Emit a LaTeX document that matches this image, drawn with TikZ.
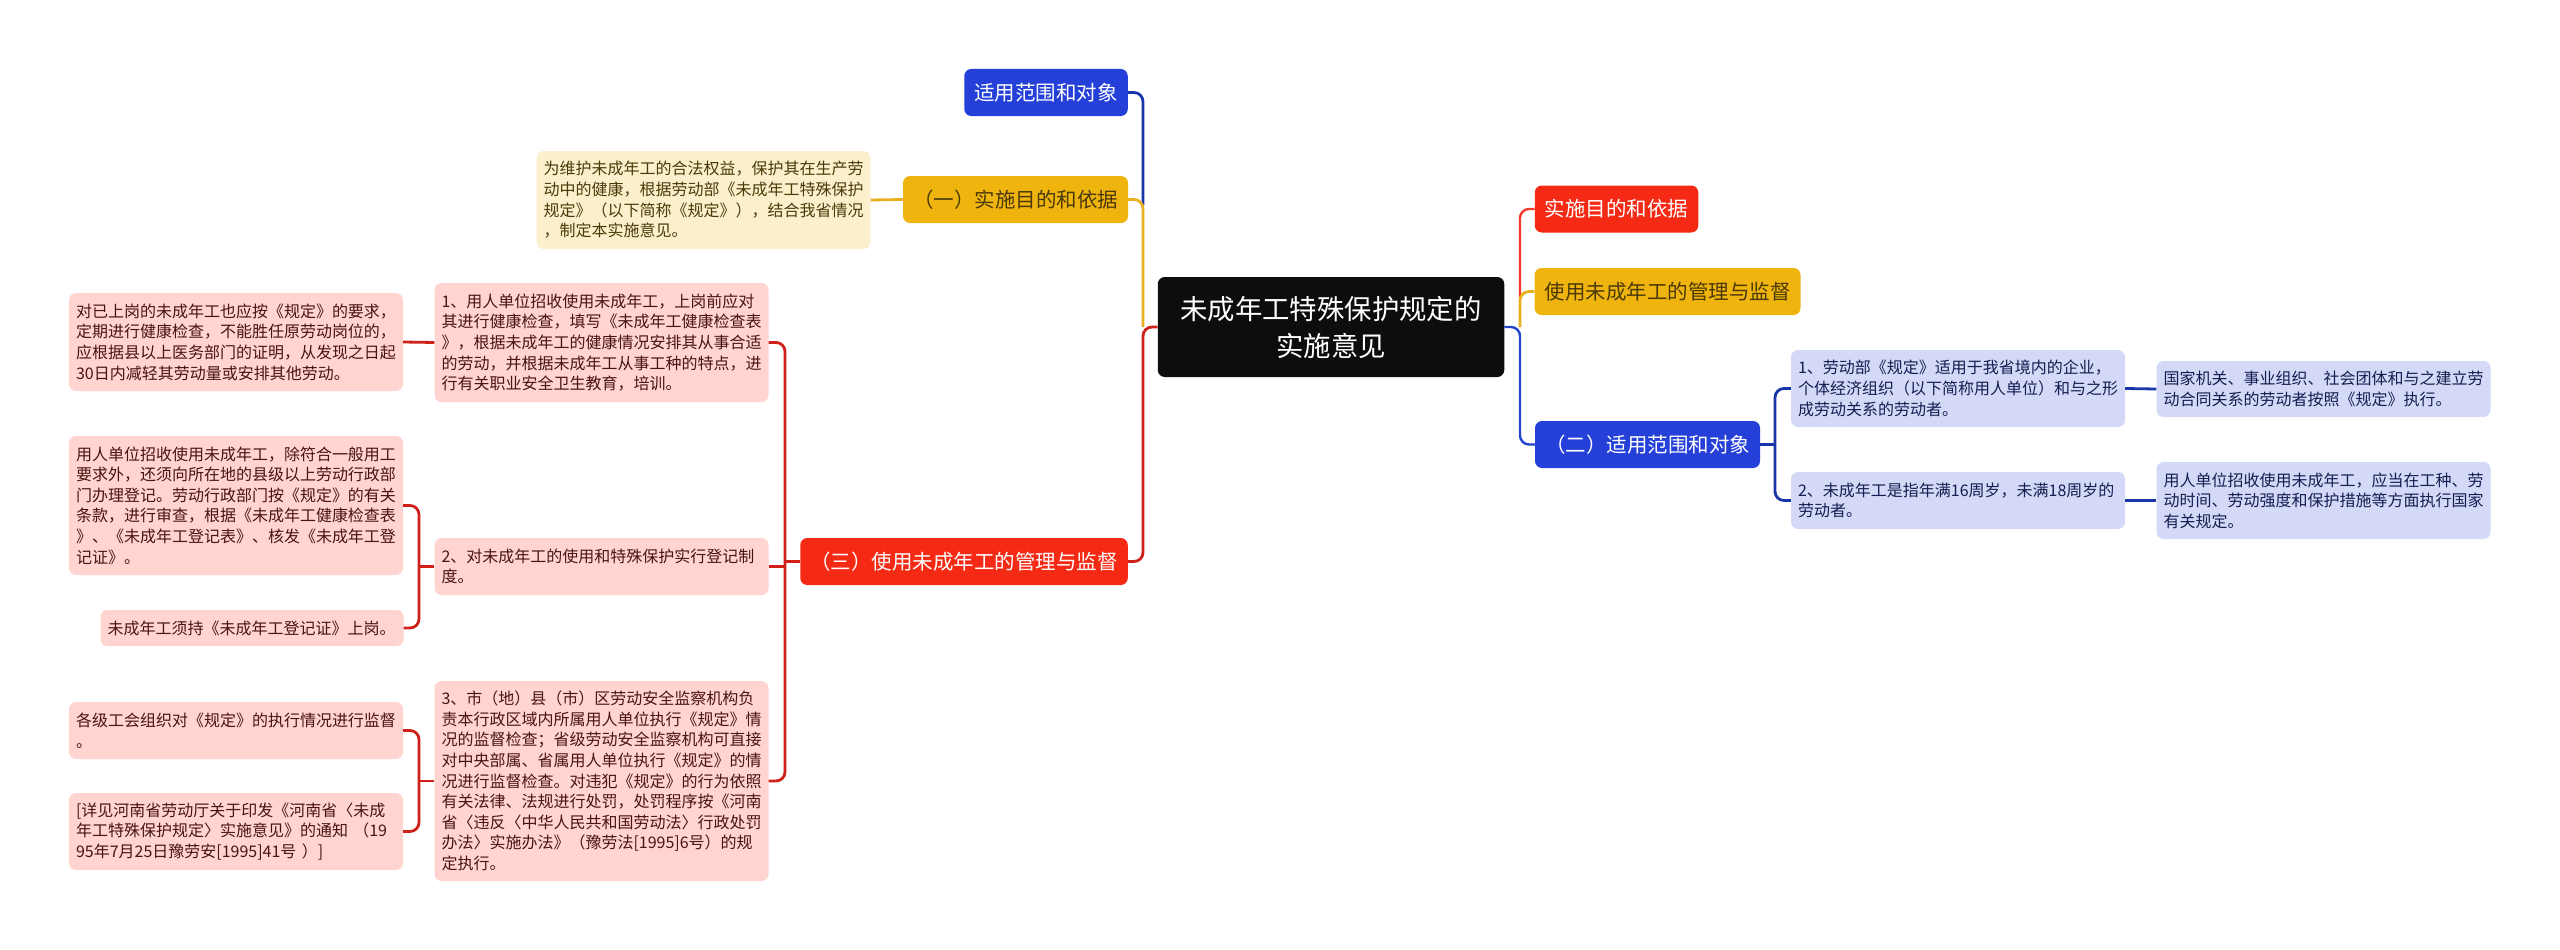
\documentclass[tikz,border=0pt]{standalone}
\usepackage{fontspec}
\setmainfont{Noto Sans CJK SC}
\definecolor{cRoot}{HTML}{0D0D0D}
\definecolor{cRed}{HTML}{F42A14}
\definecolor{cYel}{HTML}{F0B40F}
\definecolor{cBlue}{HTML}{2440D8}
\definecolor{cLRed}{HTML}{FFD4D1}
\definecolor{cLYel}{HTML}{FCF0CC}
\definecolor{cLBlue}{HTML}{D3D9F7}
\definecolor{tRed}{HTML}{4A1410}
\definecolor{tYel}{HTML}{4A3A08}
\definecolor{tBlue}{HTML}{141E50}
\definecolor{lRed}{HTML}{D0201A}
\definecolor{lRedB}{HTML}{F43A2A}
\definecolor{lYel}{HTML}{E8B020}
\definecolor{lBlue}{HTML}{1A36A8}
\definecolor{lBlueB}{HTML}{2444CC}
\tikzset{
  x=1pt,y=-1pt,
  boxbase/.style={rectangle,rounded corners=7pt,inner ysep=0pt,anchor=center},
  leafbase/.style={boxbase,inner xsep=7pt,align=left,text width=320pt,font=\fontsize{16}{20.6}\selectfont},
  leafred/.style={leafbase,fill=cLRed,text=tRed},
  leafyel/.style={leafbase,fill=cLYel,text=tYel},
  leafblue/.style={leafbase,fill=cLBlue,text=tBlue},
  midbase/.style={boxbase,inner xsep=10pt,minimum height=47pt,font=\fontsize{20.5}{26}\selectfont},
  midred/.style={midbase,fill=cRed,text=white},
  midyel/.style={midbase,fill=cYel,text=tYel},
  midblue/.style={midbase,fill=cBlue,text=white},
  rootbox/.style={boxbase,fill=cRoot,text=white,align=center,minimum width=346.5pt,minimum height=100pt,font=\fontsize{27.4}{37}\selectfont},
  conn/.style={line width=2.8pt,rounded corners=9pt},
  connred/.style={conn,draw=lRed},
  connyel/.style={conn,draw=lYel},
  connblue/.style={conn,draw=lBlue},
  connredb/.style={conn,draw=lRedB,line width=2.4pt},
  connblueb/.style={conn,draw=lBlueB,line width=2.4pt},
}
\begin{document}
\begin{tikzpicture}
\useasboundingbox (0,0) rectangle (2560,950);
% root
\node[rootbox] (root) at (1331,327) {未成年工特殊保护规定的\\实施意见};
% left mains
\node[midblue] (lblue) at (1046,92.5) {适用范围和对象};
\node[midyel] (lyel) at (1015.5,199.5) {（一）实施目的和依据};
\node[midred] (lred) at (964,561.5) {（三）使用未成年工的管理与监督};
% right mains
\node[midred] (rred) at (1616.5,209) {实施目的和依据};
\node[midyel] (ryel) at (1667.5,291.5) {使用未成年工的管理与监督};
\node[midblue] (rblue) at (1647.5,444.5) {（二）适用范围和对象};
% yellow leaf
\node[leafyel,minimum height=98pt] (ly) at (703.5,200) {为维护未成年工的合法权益，保护其在生产劳\\动中的健康，根据劳动部《未成年工特殊保护\\规定》（以下简称《规定》），结合我省情况\\，制定本实施意见。};
% red level 2
\node[leafred,minimum height=119pt] (r1) at (601.5,342.5) {1、用人单位招收使用未成年工，上岗前应对\\其进行健康检查，填写《未成年工健康检查表\\》，根据未成年工的健康情况安排其从事合适\\的劳动，并根据未成年工从事工种的特点，进\\行有关职业安全卫生教育，培训。};
\node[leafred,minimum height=57pt] (r2) at (601.5,566.5) {2、对未成年工的使用和特殊保护实行登记制\\度。};
\node[leafred,minimum height=200pt] (r3) at (601.5,781) {3、市（地）县（市）区劳动安全监察机构负\\责本行政区域内所属用人单位执行《规定》情\\况的监督检查；省级劳动安全监察机构可直接\\对中央部属、省属用人单位执行《规定》的情\\况进行监督检查。对违犯《规定》的行为依照\\有关法律、法规进行处罚，处罚程序按《河南\\省〈违反〈中华人民共和国劳动法〉行政处罚\\办法〉实施办法》（豫劳法[1995]6号）的规\\定执行。};
% red level 3
\node[leafred,minimum height=98pt] (a1) at (236,342) {对已上岗的未成年工也应按《规定》的要求，\\定期进行健康检查，不能胜任原劳动岗位的，\\应根据县以上医务部门的证明，从发现之日起\\30日内减轻其劳动量或安排其他劳动。};
\node[leafred,minimum height=139pt] (a2) at (236,505.5) {用人单位招收使用未成年工，除符合一般用工\\要求外，还须向所在地的县级以上劳动行政部\\门办理登记。劳动行政部门按《规定》的有关\\条款，进行审查，根据《未成年工健康检查表\\》、《未成年工登记表》、核发《未成年工登\\记证》。};
\node[leafred,text width=289pt,minimum height=36pt] (a3) at (252,628) {未成年工须持《未成年工登记证》上岗。};
\node[leafred,minimum height=57pt] (a4) at (236,730.5) {各级工会组织对《规定》的执行情况进行监督\\。};
\node[leafred,minimum height=77pt] (a5) at (236,831.5) {[详见河南省劳动厅关于印发《河南省〈未成\\年工特殊保护规定〉实施意见》的通知 （19\\95年7月25日豫劳安[1995]41号 ）]};
% blue leaves
\node[leafblue,minimum height=77pt] (b1) at (1958,388.5) {1、劳动部《规定》适用于我省境内的企业，\\个体经济组织（以下简称用人单位）和与之形\\成劳动关系的劳动者。};
\node[leafblue,minimum height=57pt] (b2) at (1958,500.5) {2、未成年工是指年满16周岁，未满18周岁的\\劳动者。};
\node[leafblue,minimum height=56pt] (c1) at (2323.5,389) {国家机关、事业组织、社会团体和与之建立劳\\动合同关系的劳动者按照《规定》执行。};
\node[leafblue,minimum height=77pt] (c2) at (2323.5,500.5) {用人单位招收使用未成年工，应当在工种、劳\\动时间、劳动强度和保护措施等方面执行国家\\有关规定。};
% trunk coordinates
\coordinate (tl) at (1143,327);
\coordinate (tr) at (1520,327);
\coordinate (tm) at (785,566.5);
\coordinate (ta) at (419,566.5);
\coordinate (tb) at (419,781);
\coordinate (tc) at (1775,444.5);
\coordinate (tlb) at (1143,205);
\coordinate (trr) at (1520,297);
% left of root
\draw[connblue] (lblue.east) -| (tlb);
\draw[connyel] (lyel.east) -| (tl);
\draw[connred] (root.west) -- (tl) |- (lred.east);
% right of root
\draw[connredb] (rred.west) -| (trr);
\draw[connyel] (ryel.west) -| (tr);
\draw[connblueb] (root.east) -- (tr) |- (rblue.west);
% yellow leaf
\draw[connyel] (lyel.west) -- (ly.east);
% red main to level 2
\draw[connred] (r1.east) -| (tm) |- (r3.east);
\draw[connred] (r2.east) -- (tm);
\draw[connred] (lred.west) -- (lred.west -| tm);
% level 2 to level 3
\draw[connred] (a1.east) -- (r1.west);
\draw[connred] (a2.east) -| (ta) |- (a3.east);
\draw[connred] (ta) -- (r2.west);
\draw[connred] (a4.east) -| (tb) |- (a5.east);
\draw[connred] (tb) -- (r3.west);
% blue
\draw[connblue] (b1.west) -| (tc) |- (b2.west);
\draw[connblue] (rblue.east) -- (tc);
\draw[connblue] (b1.east) -- (c1.west);
\draw[connblue] (b2.east) -- (c2.west);
\end{tikzpicture}
\end{document}
